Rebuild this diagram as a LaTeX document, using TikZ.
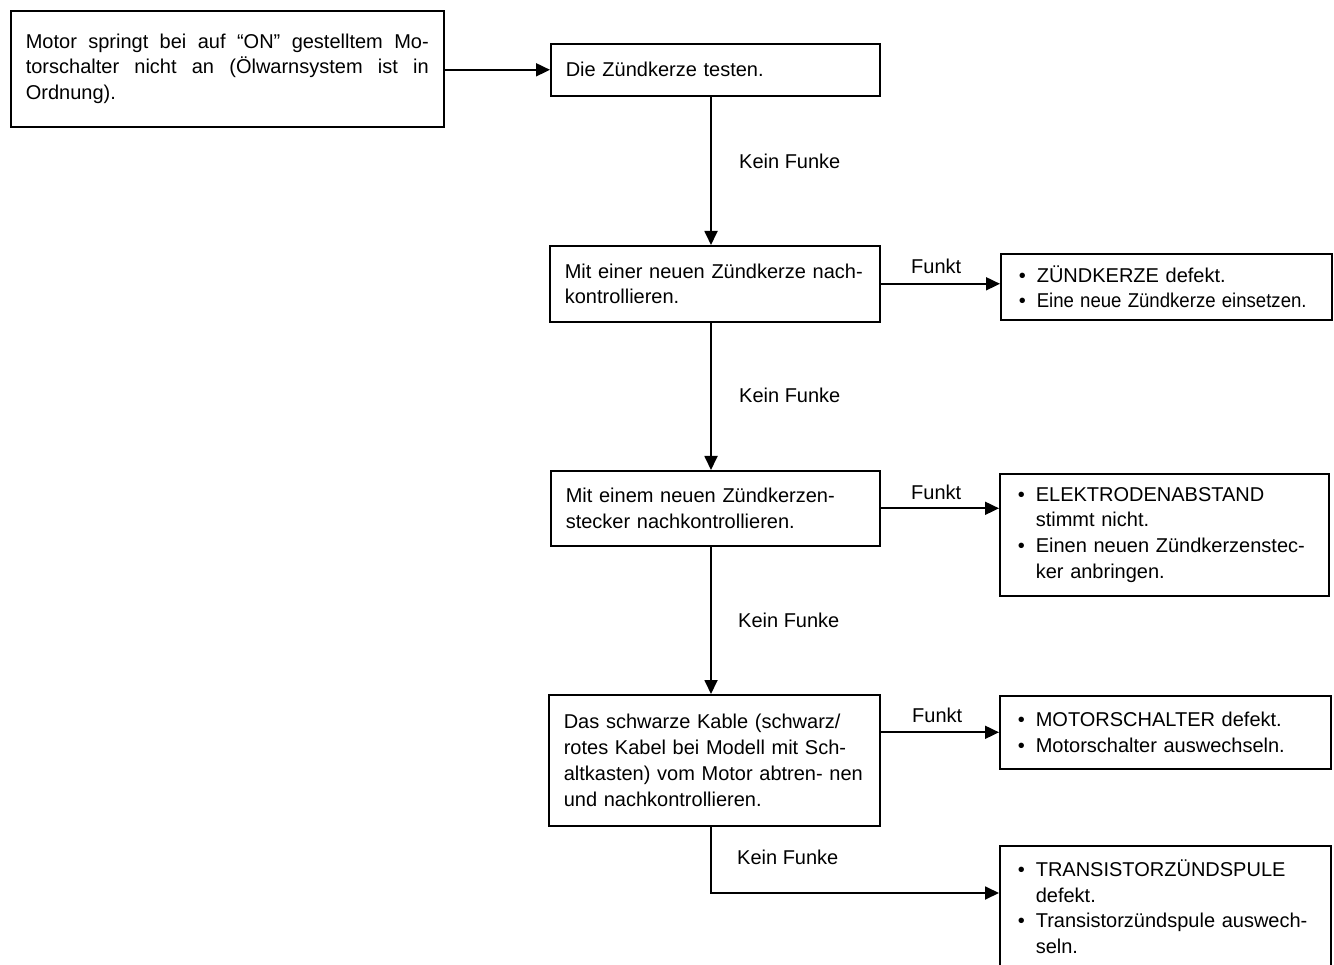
\documentclass[tikz,border=0pt]{standalone}
\usepackage{fontspec}
\usepackage{graphicx}
\setmainfont{Liberation Sans}
\usetikzlibrary{arrows.meta}
\newcommand{\bitem}{\makebox[21pt][l]{\hspace{3pt}\textbullet}}
\newcommand{\bind}{\hspace*{21pt}}
\newcommand{\narrow}[1]{\scalebox{0.93}[1]{#1}}
\begin{document}
\begin{tikzpicture}[x=1pt,y=-1pt,
  box/.style={draw, line width=1.6pt, rectangle, anchor=north west, inner xsep=15pt, inner ysep=0pt, align=left, font=\fontsize{20}{25.8}\selectfont},
  arr/.style={line width=1.8pt, -{Triangle[length=14pt,width=13pt]}},
  lbl/.style={inner sep=0pt, anchor=west, font=\fontsize{20}{24}\selectfont}]
\useasboundingbox (0,0) rectangle (1334,965);
\node[box, align=justify, text width=403pt, minimum width=433pt, minimum height=116pt] (a) at (10,10)
  {Motor springt bei auf “ON” gestelltem Mo-\linebreak torschalter nicht an (Ölwarnsystem ist in\linebreak Ordnung).};
\node[box, text width=299pt, minimum width=329pt, minimum height=52pt] (b) at (550,43) {Die Zündkerze testen.};
\node[box, text width=300pt, minimum width=330pt, minimum height=76pt] (c) at (549,245) {Mit einer neuen Zündkerze nach-\\kontrollieren.};
\node[box, text width=301pt, minimum width=331pt, minimum height=66pt] (d) at (1000,253) {\bitem ZÜNDKERZE defekt.\\\bitem\narrow{Eine neue Zündkerze einsetzen.}};
\node[box, text width=299pt, minimum width=329pt, minimum height=75pt] (e) at (550,470) {Mit einem neuen Zündkerzen-\\stecker nachkontrollieren.};
\node[box, text width=299pt, minimum width=329pt, minimum height=122pt] (f) at (999,473) {\bitem ELEKTRODENABSTAND\\\bind stimmt nicht.\\\bitem Einen neuen Zündkerzenstec-\\\bind ker anbringen.};
\node[box, text width=301pt, minimum width=331pt, minimum height=131pt, inner xsep=14pt] (g) at (548,694) {Das schwarze Kable (schwarz/\\rotes Kabel bei Modell mit Sch-\\altkasten) vom Motor abtren- nen\\und nachkontrollieren.};
\node[box, text width=301pt, minimum width=331pt, minimum height=73pt] (h) at (999,695) {\bitem MOTORSCHALTER defekt.\\\bitem Motorschalter auswechseln.};
\node[box, text width=301pt, minimum width=331pt, minimum height=122pt] (i) at (999,845) {\bitem TRANSISTORZÜNDSPULE\\\bind defekt.\\\bitem Transistorzündspule auswech-\\\bind seln.};
\coordinate (col) at (711,0);
\coordinate (ibend) at (999,893);
\draw[arr] (b.west -| a.east) -- (b.west);
\draw[arr] (b.south -| col) -- (c.north -| col);
\draw[arr] (c.south -| col) -- (e.north -| col);
\draw[arr] (e.south -| col) -- (g.north -| col);
\draw[arr] (g.south -| col) |- (ibend);
\draw[arr] (c.east) -- (c.east -| d.west);
\draw[arr] (e.east) -- (e.east -| f.west);
\draw[arr] (h.west -| g.east) -- (h.west);
\node[lbl] (k1) at (739,161) {Kein Funke};
\node[lbl] (k2) at (739,395) {Kein Funke};
\node[lbl] (k3) at (738,620) {Kein Funke};
\node[lbl] (k4) at (737,857) {Kein Funke};
\node[lbl] (f1) at (911,266) {Funkt};
\node[lbl] (f2) at (911,492) {Funkt};
\node[lbl] (f3) at (912,715) {Funkt};
\end{tikzpicture}
\end{document}
